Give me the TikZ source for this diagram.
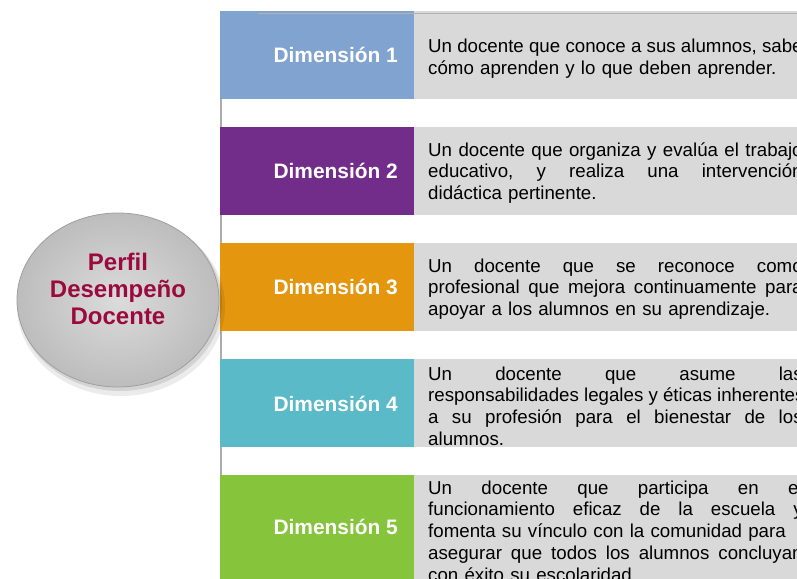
\documentclass[tikz,border=0pt]{standalone}
\usepackage{fontspec}
\setmainfont{Liberation Sans}
\usetikzlibrary{shapes.geometric}
\definecolor{dimblue}{RGB}{128,163,208}
\definecolor{dimpurple}{RGB}{114,45,139}
\definecolor{dimorange}{RGB}{228,150,14}
\definecolor{dimteal}{RGB}{91,186,200}
\definecolor{dimgreen}{RGB}{134,196,60}
\definecolor{descgray}{RGB}{217,217,217}
\definecolor{maroon}{RGB}{155,10,60}
\newcommand\jl[1]{\leavevmode\hbox to 374.5pt{\frenchspacing\spaceskip=0.278em plus 1fil\relax #1}}
\begin{document}
\begin{tikzpicture}[x=1pt,y=-1pt,
  dimbox/.style={minimum width=194pt, minimum height=#1, inner sep=0pt, outer sep=0pt, anchor=north west},
  descbox/.style={fill=descgray, minimum width=400pt, minimum height=#1, inner sep=0pt, outer sep=0pt, anchor=north west},
  dimlabel/.style={font=\bfseries\fontsize{20.9}{24}\selectfont, text=white, anchor=east, inner sep=0pt},
  desc/.style={font=\fontsize{18.7}{21.7}\selectfont, text width=377pt, align=left, anchor=west, inner sep=0pt, text=black},
  ruleline/.style={draw=gray!65, line width=1.3pt}]
\useasboundingbox (0,0) rectangle (797,578);
\clip (0,0) rectangle (797,578);
\fill[white] (0,0) rectangle (797,578);

% spine line
\coordinate (spineTop) at (221,11);
\coordinate (spineBot) at (221,578);
\draw[ruleline] (spineTop) -- (spineBot);

% row boxes
\node[dimbox=88pt, fill=dimblue]   (b1) at (220,11)  {};
\node[descbox=88pt]                (g1) at (414,11)  {};
\node[dimbox=88pt, fill=dimpurple] (b2) at (220,127) {};
\node[descbox=88pt]                (g2) at (414,127) {};
\node[dimbox=88pt, fill=dimorange] (b3) at (220,243) {};
\node[descbox=88pt]                (g3) at (414,243) {};
\node[dimbox=88pt, fill=dimteal]   (b4) at (220,359) {};
\node[descbox=88pt]                (g4) at (414,359) {};
\node[dimbox=110pt, fill=dimgreen] (b5) at (220,475) {};
\node[descbox=110pt]               (g5) at (414,475) {};

% top line
\coordinate (topL) at (258,13.5);
\coordinate (topR) at (797,13.5);
\draw[draw=gray!60, line width=1.2pt] (topL) -- (topR);

% dimension labels
\node[dimlabel] (l1) at (398,55)  {Dimensión 1};
\node[dimlabel] (l2) at (398,171) {Dimensión 2};
\node[dimlabel] (l3) at (398,287) {Dimensión 3};
\node[dimlabel] (l4) at (398,404) {Dimensión 4};
\node[dimlabel] (l5) at (398,527) {Dimensión 5};

% descriptions
\node[desc] (t1) at (428,59) {\jl{Un docente que conoce a sus alumnos, sabe}\\cómo aprenden y lo que deben aprender.};
\node[desc] (t2) at (428,173) {\jl{Un docente que organiza y evalúa el trabajo}\\\jl{educativo, y realiza una intervención}\\didáctica pertinente.};
\node[desc] (t3) at (428,289) {\jl{Un docente que se reconoce como}\\\jl{profesional que mejora continuamente para}\\apoyar a los alumnos en su aprendizaje.};
\node[desc] (t4) at (428,406) {\jl{Un docente que asume las}\\\jl{responsabilidades legales y éticas inherentes}\\\jl{a su profesión para el bienestar de los}\\alumnos.};
\node[desc] (t5) at (428,531) {\jl{Un docente que participa en el}\\\jl{funcionamiento eficaz de la escuela y}\\fomenta su vínculo con la comunidad para\\\jl{asegurar que todos los alumnos concluyan}\\con éxito su escolaridad.};

% ellipse shadow
\fill[black, opacity=0.08] (121,306) ellipse [x radius=104, y radius=90];
\fill[black, opacity=0.10] (120,303) ellipse [x radius=102, y radius=88];
% ellipse
\node[ellipse, minimum width=202pt, minimum height=174pt, inner sep=0pt,
      inner color=gray!28, outer color=gray!52, draw=gray!75, line width=0.8pt]
      (perfil) at (118,300) {};
\node[font=\bfseries\fontsize{24}{27}\selectfont, text=maroon, align=center, inner sep=0pt]
      (perfiltxt) at (118,289) {Perfil\\Desempeño\\Docente};
\end{tikzpicture}
\end{document}
